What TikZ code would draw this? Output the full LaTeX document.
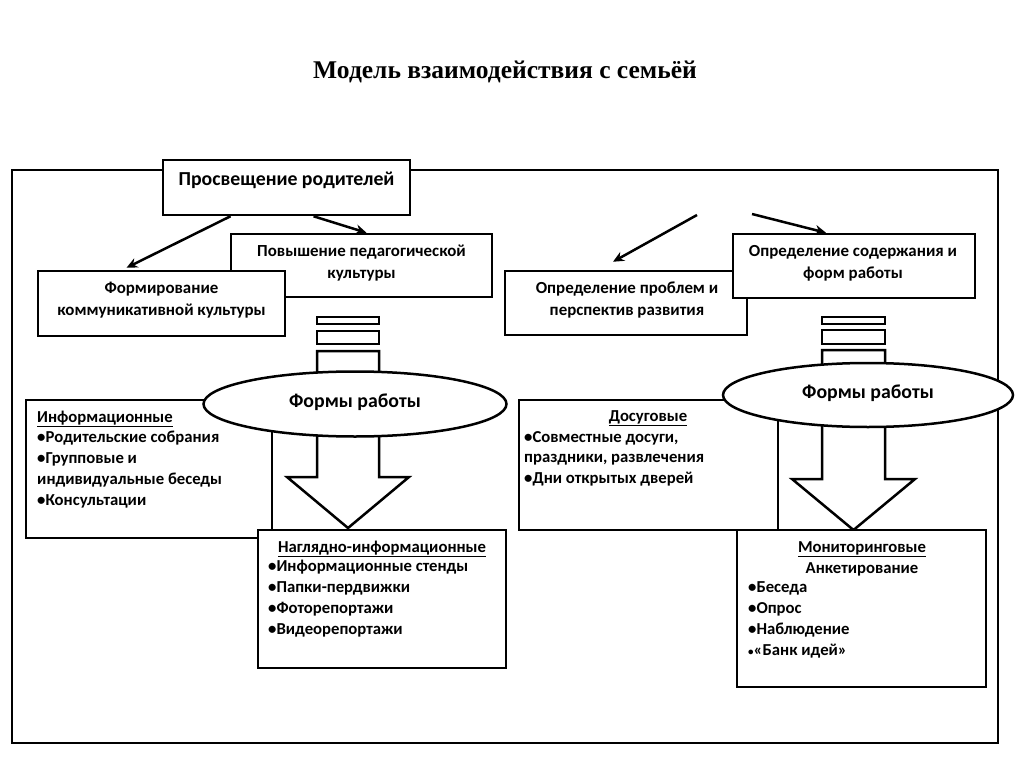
\documentclass[tikz,border=0pt]{standalone}
\usepackage{fontspec}
\setmainfont{Carlito}
\newfontfamily\titlefont{Liberation Serif}
\usetikzlibrary{arrows.meta,shapes.geometric}
\begin{document}
\begin{tikzpicture}[x=1pt,y=-1pt,
  box/.style={draw, line width=2.5pt, fill=white, inner sep=0pt, rectangle},
  txt/.style={font=\bfseries\fontsize{16.9}{22}\selectfont, inner sep=0pt, align=center},
  bigtxt/.style={font=\bfseries\fontsize{19.8}{22}\selectfont, inner sep=0pt, align=center},
  ltxt/.style={font=\bfseries\fontsize{16.7}{20.7}\selectfont, inner sep=0pt, align=left, anchor=base west},
  htxt/.style={font=\bfseries\fontsize{16.7}{20.7}\selectfont, inner sep=0pt, anchor=base},
  conn/.style={line width=2.5pt, -{Stealth[length=11pt,width=10pt]}},
  oval/.style={draw, ellipse, line width=2.5pt, fill=white, inner sep=0pt},
  blockarrow/.style={draw, line width=2.5pt, fill=white, line join=miter}
]
\useasboundingbox (0,0) rectangle (1024,767);

\node[font=\titlefont\bfseries\fontsize{25.5}{30}\selectfont, inner sep=0pt] (title) at (505,72) {Модель взаимодействия с семьёй};

% outer frame
\node[box, fill=none, minimum width=986pt, minimum height=573pt] (frame) at (505,456.5) {};

% top left
\node[box, minimum width=247pt, minimum height=55pt] (prosv) at (286.5,187.5) {};
\node[bigtxt] (tprosv) at (286.5,180) {Просвещение родителей};
\node[box, minimum width=261pt, minimum height=63pt] (pov) at (361.5,265.5) {};
\node[txt] (tpov) at (361.5,263) {Повышение педагогической\\культуры};
\node[box, minimum width=247pt, minimum height=65pt] (form) at (161.5,303.5) {};
\node[txt] (tform) at (161.5,300.5) {Формирование\\коммуникативной культуры};
\draw[conn] ([xshift=-56pt]prosv.south) -- ([xshift=-35pt,yshift=2pt]form.north);
\draw[conn] ([xshift=27pt]prosv.south) -- ([xshift=5pt]pov.north);

% top right
\node[box, minimum width=242pt, minimum height=64pt] (prob) at (626,303) {};
\node[txt] (tprob) at (627,300) {Определение проблем и\\перспектив развития};
\node[box, minimum width=242pt, minimum height=64pt] (cont) at (854,266) {};
\node[txt] (tcont) at (853,263) {Определение содержания и\\форм работы};
\coordinate (s1) at (697,215);
\coordinate (s2) at (752,214);
\draw[conn] (s1) -- ([xshift=-13pt,yshift=8pt]prob.north);
\draw[conn] (s2) -- ([xshift=-28pt]cont.north);

% left column lower
\node[box, minimum width=246pt, minimum height=138pt] (info) at (149,469) {};
\node[ltxt] (tinfo) at (37,505) {\underline{Информационные}\\•Родительские собрания\\•Групповые и\\индивидуальные беседы\\•Консультации};
\draw[blockarrow] (317,351) -- (317,477) -- (287,477) -- (348,528) -- (409,477) -- (379,477) -- (379,351) -- cycle;
\node[box, minimum width=62pt, minimum height=7pt] (strL1) at (348,320.5) {};
\node[box, minimum width=62pt, minimum height=13pt] (strL2) at (348,337.5) {};
\node[box, minimum width=248pt, minimum height=138pt] (nagl) at (382,599) {};
\node[htxt] (hnagl) at (382,552) {\underline{Наглядно-информационные}};
\node[ltxt] (tnagl) at (268,634) {•Информационные стенды\\•Папки-пердвижки\\•Фоторепортажи\\•Видеорепортажи};
\node[oval, minimum width=303pt, minimum height=65pt] (ovL) at (355,404) {};
\node[bigtxt] (tovL) at (355,402) {Формы работы};

% right column lower
\node[box, minimum width=259pt, minimum height=130pt] (dos) at (648.5,465) {};
\node[htxt] (hdos) at (648,421) {\underline{Досуговые}};
\node[ltxt] (tdos) at (524,483.5) {•Совместные досуги,\\праздники, развлечения\\•Дни открытых дверей};
\draw[blockarrow] (822,350) -- (822,479) -- (792,479) -- (853.5,530) -- (915,479) -- (885,479) -- (885,350) -- cycle;
\node[box, minimum width=63pt, minimum height=7pt] (strR1) at (853.5,320.5) {};
\node[box, minimum width=63pt, minimum height=14pt] (strR2) at (853.5,337) {};
\node[box, minimum width=249pt, minimum height=157pt] (mon) at (861.5,608.5) {};
\node[htxt] (hmon) at (862,552) {\underline{Мониторинговые}};
\node[htxt] (amon) at (862,573) {Анкетирование};
\node[ltxt] (tmon) at (748,655) {•Беседа\\•Опрос\\•Наблюдение\\{\fontsize{11}{12}\selectfont•}«Банк идей»};
\node[oval, minimum width=290pt, minimum height=64pt] (ovR) at (868,395) {};
\node[bigtxt] (tovR) at (868,393) {Формы работы};
\end{tikzpicture}
\end{document}
